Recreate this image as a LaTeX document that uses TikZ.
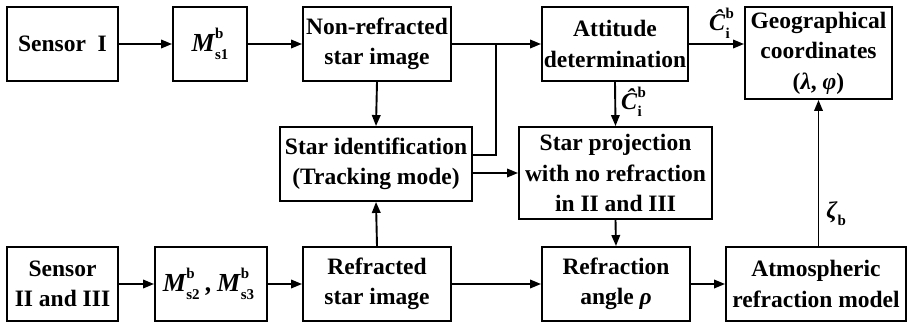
\documentclass[tikz,border=0pt]{standalone}
\usepackage{fontspec}
\setmainfont{Liberation Serif}
\usetikzlibrary{arrows.meta}
% symbol with stacked superscript and subscript, set in text fonts
\newcommand\ms[3]{#1\kern0.5pt\rlap{\raisebox{0.5em}{\fontsize{15}{15}\selectfont\upshape\bfseries #2}}\raisebox{-0.3em}{\fontsize{15}{15}\selectfont\upshape\bfseries #3}}
\tikzset{
  blk/.style={draw, line width=1.9pt, align=center, inner sep=0pt,
    font=\fontsize{23.5}{30.5}\selectfont\bfseries},
  flow/.style={line width=1.9pt, -{Triangle[length=11pt,width=8.5pt]}},
  link/.style={line width=1.9pt},
  lab/.style={inner sep=0pt, font=\fontsize{24}{26}\selectfont\bfseries}
}
\begin{document}
\begin{tikzpicture}[x=1pt,y=-1pt]
\useasboundingbox (0,0) rectangle (907,324);
% top row
\node[blk, minimum width=111pt, minimum height=74pt] (s1) at (62.5,44) {Sensor\ \ I};
\node[blk, minimum width=74pt, minimum height=74pt] (m1) at (210,44) {\ms{\fontsize{26}{26}\selectfont\itshape M}{b}{s1}};
\node[blk, minimum width=148pt, minimum height=74pt] (nr) at (377,44) {Non-refracted\\star image};
\node[blk, minimum width=146pt, minimum height=74pt] (att) at (615,44) {Attitude\\determination};
\node[blk, minimum width=147pt, minimum height=92pt] (geo) at (818.5,53) {Geographical\\coordinates\\(\itshape λ\upshape, \itshape φ\upshape)};
% middle row
\node[blk, minimum width=192pt, minimum height=74pt] (sid) at (376,164) {Star identification\\(Tracking mode)};
\node[blk, minimum width=193pt, minimum height=92pt] (proj) at (615.5,173) {Star projection\\with no refraction\\in II and III};
% bottom row
\node[blk, minimum width=111pt, minimum height=74pt] (s23) at (62.5,284) {Sensor\\II and III};
\node[blk, minimum width=112pt, minimum height=74pt] (m23) at (211,284) {\ms{\fontsize{26}{26}\selectfont\itshape M}{b}{s2}\kern6pt,\kern5pt\ms{\fontsize{26}{26}\selectfont\itshape M}{b}{s3}\kern5pt};
\node[blk, minimum width=148pt, minimum height=74pt] (rf) at (377,284) {Refracted\\star image};
\node[blk, minimum width=148pt, minimum height=74pt] (ang) at (616,284) {Refraction\\angle \itshape ρ};
\node[blk, minimum width=180pt, minimum height=74pt] (atm) at (816,284) {Atmospheric\\refraction model};
% junction where the two branches meet
\coordinate (j) at (496,44);
% connectors
\draw[flow] (s1) -- (m1);
\draw[flow] (m1) -- (nr);
\draw[flow] (nr.east) -- (att.west);
\draw[link] (sid.east |- 0,155) -| (j);
\draw[flow] (sid.east |- 0,173) -- (proj.west |- 0,173);
\draw[flow] (nr.south) -- (sid.north);
\draw[flow] (rf.north) -- (sid.south);
\draw[flow] (att.south) -- node[lab, right=5pt, pos=0.45] {\ms{\itshape Ĉ}{b}{i}} (proj.north);
\draw[flow] (att.east) -- node[lab, above=5pt, xshift=3pt] {\ms{\itshape Ĉ}{b}{i}} (geo.west |- att.east);
\draw[flow] (proj.south) -- (ang.north);
\draw[flow] (s23) -- (m23);
\draw[flow] (m23) -- (rf);
\draw[flow] (rf) -- (ang);
\draw[flow] (ang) -- (atm.west |- ang.east);
\draw[flow] (atm.north -| geo.south) -- node[lab, right=7pt, pos=0.22] {\ms{\itshape ζ}{}{b}} (geo.south);
\end{tikzpicture}
\end{document}
